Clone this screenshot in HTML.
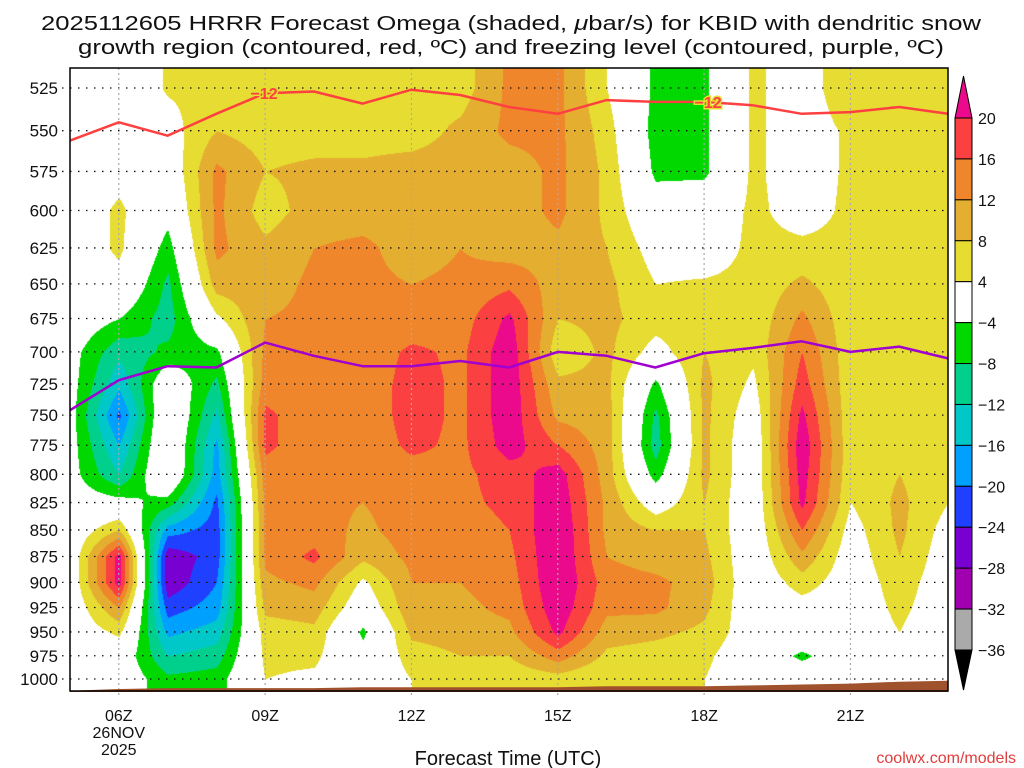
<!DOCTYPE html>
<html><head><meta charset="utf-8"><style>
html,body{margin:0;padding:0;background:#fff;}
#wrap{position:relative;width:1024px;height:768px;overflow:hidden;font-family:"Liberation Sans","DejaVu Sans",sans-serif;}
#cv{position:absolute;left:70px;top:68px;}
#ov{position:absolute;left:0;top:0;}
</style></head><body>
<div id="wrap">
<canvas id="cv" width="878" height="622"></canvas>
<svg id="ov" width="1024" height="768" xmlns="http://www.w3.org/2000/svg">
<g id="grid"></g>
<g id="lines"></g>
<g id="axes"></g>
<g id="cbar"></g>
<text x="511" y="30" text-anchor="middle" font-size="20" textLength="940" lengthAdjust="spacingAndGlyphs" fill="#111">2025112605 HRRR Forecast Omega (shaded, <tspan font-style="italic">μ</tspan>bar/s) for KBID with dendritic snow</text>
<text x="511" y="54" text-anchor="middle" font-size="20" textLength="866" lengthAdjust="spacingAndGlyphs" fill="#111">growth region (contoured, red, ºC) and freezing level (contoured, purple, ºC)</text>
<text x="508" y="765" text-anchor="middle" font-size="20" fill="#111">Forecast Time (UTC)</text>
<text x="1016" y="763" text-anchor="end" font-size="16" fill="#e03c3c">coolwx.com/models</text>
</svg>
</div>
<script>
const levels=[525,550,575,600,625,650,675,700,725,750,775,800,825,850,875,900,925,950,975,1000];
const hours=[5,6,7,8,9,10,11,12,13,14,15,16,17,18,19,20,21,22,23];
// omega columns (one per hour), values top (525) to bottom (1000)
const h05=[0,0,0,0,0,0,0,-2,-2,-2,-2,-2,-1,0,0,0,0,0,0,0];
const h06=[0,0,2,5,5,2,-4,-11,-15,-21,-16,-12,-2,8,22,22,12,5,0,0];
const h07=[4.5,2,0,-2,-6,-9,-10,-7,1,3,3,3,-6,-18,-27,-27,-22,-17,-12,-7];
const h08=[5,8,13,13,13,10,3,-5,-9,-13,-17,-18,-21,-22,-22,-20,-18,-14,-10,-6];
const h09=[5,6,8,6,9,10,12,13,14,17,17,14,13,13,13,11,9,6,5,4];
const h10=[5,6,9,10,12,13,13,13,13,13,13,13,13,14,17,13,10,7,5,3];
const h11=[4,6,9,10,13,13,13,13,13,13,13,13,12,11,9,3,0,-5,-2,0];
const h12=[6,6,10,10,10,12,13,17,18,18,17,14,14,14,13,12,11,9,6,4];
const h13=[6,9,10,11,12,13,14,15,15,15,15,15,15,14,13,12,11,10,8,4];
const h14=[13,13,10,10,10,15,21,23,23,23,22,18,17,16,15,14,13,11,8,5];
const h15=[13,13,13,13,11,10,8,5,9,11,16,22,23,24,24,24,23,21,14,6];
const h16=[4,6,7,7,8,9,9,9,9,10,10,10,11,11,12,14,13,10,7,4];
const h17=[-5,-6,-5,-1,2,4,6,2,-5,-9,-10,-6,1,8,10,13,13,9,6,4];
const h18=[-5,-5,-5,0,1.5,4.5,6,8,9,9,9,9,8,8,9,10,9,7,5,4];
const h19=[5,5,5,5,5,5,5,5,3,1,0,0,0,0,0,0,0,1,0,0];
const h20=[1,1,1,2,5,9,13,16,18,21,23,22,21,16,11,6,2,0,-5,0];
const h21=[8,5,5,5,5,5,5,5,5,5,5,5,4,2,1,1,1,1,0,0];
const h22=[6,5,5,5,5,5,5,5,5,5,5,8,9,9,8,6,5,4,2,1];
const h23=[5,5,5,5,5,5,5,5,5,5,5,5,4,2,1,1,1,0,0,0];
const omega=[h05,h06,h07,h08,h09,h10,h11,h12,h13,h14,h15,h16,h17,h18,h19,h20,h21,h22,h23];
// -12C level (hPa) and freezing level (hPa) per hour
const dendriteP=[556,545,553,540,528,527,534,526,529,536,540,532,533,533,535,540,539,536,540];
const freezeP=[746,722,711,712,693,703,711,711,707,712,700,703,712,701,697,692,700,696,705];
const surfaceP=[1013,1011,1010,1010,1010,1010,1009,1009,1009,1009,1009,1008,1008,1008,1007,1006,1005,1003,1002];
const cbarLabels=["20","16","12","8","4","−4","−8","−12","−16","−20","−24","−28","−32","−36"];
const xTickHours=[6,9,12,15,18,21];
const xTickLabels=["06Z","09Z","12Z","15Z","18Z","21Z"];

const thresholds=[-36,-32,-28,-24,-20,-16,-12,-8,-4,4,8,12,16,20];
const colors=["#000000","#aaaaaa","#a000b0","#7800d0","#2040ff","#00a0ff","#00c8c8","#00d08c","#00d800","#ffffff","#e6dc32","#e4ae30","#f0862c","#fa4040","#ec0a8c"];
function hexRgb(h){return [parseInt(h.substr(1,2),16),parseInt(h.substr(3,2),16),parseInt(h.substr(5,2),16)];}

const X0=70,X1=948,PX=(X1-X0)/18;
function xOf(h){return X0+(h-5)*PX;}
const L0=Math.log(525),L1=Math.log(1000);
function yOf(p){return 88+(Math.log(p)-L0)/(L1-L0)*591;}
const NS="http://www.w3.org/2000/svg";
function mk(tag,attrs,parent){const e=document.createElementNS(NS,tag);for(const k in attrs)e.setAttribute(k,attrs[k]);parent.appendChild(e);return e;}

// shading
const cv=document.getElementById('cv'),ctx=cv.getContext('2d');
const W=cv.width,H=cv.height,img=ctx.createImageData(W,H);
const ly=levels.map(yOf);
const rgbCols=colors.map(hexRgb);
for(let py=0;py<H;py++){
  const Y=68+py;let i=0,f=0;
  if(Y<=ly[0]){i=0;f=0;}else if(Y>=ly[ly.length-1]){i=ly.length-2;f=1;}
  else{while(ly[i+1]<Y)i++;f=(Y-ly[i])/(ly[i+1]-ly[i]);}
  for(let px=0;px<W;px++){
    const t=Math.min(18,Math.max(0,px/PX));let j=Math.min(17,Math.floor(t));const g=t-j;
    const a=omega[j][i]*(1-f)+omega[j][i+1]*f, b=omega[j+1][i]*(1-f)+omega[j+1][i+1]*f;
    const v=a*(1-g)+b*g;
    let k=0;while(k<thresholds.length&&v>=thresholds[k])k++;
    const c=rgbCols[k],o=(py*W+px)*4;img.data[o]=c[0];img.data[o+1]=c[1];img.data[o+2]=c[2];img.data[o+3]=255;
  }
}
ctx.putImageData(img,0,0);

// terrain
const lines=document.getElementById('lines');
let tp="M"+X0+",692 ";hours.forEach((h,i)=>{tp+="L"+xOf(h).toFixed(1)+","+yOf(surfaceP[i]).toFixed(1)+" ";});tp+="L"+X1+",692 Z";
const terr=mk('path',{d:tp,fill:"#a0522d"},lines);



// grid
const grid=document.getElementById('grid');
levels.forEach(p=>{const l=mk('line',{x1:62,x2:X1,y1:yOf(p),y2:yOf(p),stroke:"#111","stroke-width":1.3,"stroke-dasharray":"1.5 6.5"},grid);

});
xTickHours.forEach(h=>{const l=mk('line',{x1:xOf(h),x2:xOf(h),y1:68,y2:698,stroke:"#aaa","stroke-width":1.2,"stroke-dasharray":"2 3"},grid);

});

// contour lines
function poly(arr){return hours.map((h,i)=>xOf(h).toFixed(1)+","+yOf(arr[i]).toFixed(1)).join(" ");}
const red=mk('polyline',{points:poly(dendriteP),fill:"none",stroke:"#ff4040","stroke-width":2.5,"stroke-linejoin":"round"},lines);


const pur=mk('polyline',{points:poly(freezeP),fill:"none",stroke:"#a000d0","stroke-width":2.5,"stroke-linejoin":"round"},lines);


[[9,"−12",-1],[18,"−12",4]].forEach(([h,s,dx])=>{const i=hours.indexOf(h);const t=mk('text',{x:xOf(h)+dx,y:yOf(dendriteP[i])+6,"text-anchor":"middle","font-size":16,"font-weight":"bold",fill:"#ff4040",stroke:"#e6dc32","stroke-width":3,"paint-order":"stroke"},lines);t.textContent=s;

});

// axes
const axes=document.getElementById('axes');
const fr=mk('rect',{x:X0,y:68,width:X1-X0,height:623,fill:"none",stroke:"#000","stroke-width":1.5},axes);


levels.forEach(p=>{const t=mk('text',{x:58,y:yOf(p)+6,"text-anchor":"end","font-size":17,fill:"#111"},axes);t.textContent=String(p);

});
xTickHours.forEach((h,i)=>{const t=mk('text',{x:xOf(h),y:721,"text-anchor":"middle","font-size":16,fill:"#111"},axes);t.textContent=xTickLabels[i];

});
[["26NOV",738],["2025",755]].forEach(([s,y])=>{const t=mk('text',{x:xOf(6),y:y,"text-anchor":"middle","font-size":16,fill:"#111"},axes);t.textContent=s;

});

// colorbar
const cb=document.getElementById('cbar');
const cbTop=118,cbBot=650,bh=(cbBot-cbTop)/13,cx0=955,cx1=972;
const tri1=mk('polygon',{points:`${cx0},${cbTop} ${cx1},${cbTop} ${(cx0+cx1)/2},76`,fill:colors[14],stroke:"#000","stroke-width":1},cb);


for(let k=0;k<13;k++){const r=mk('rect',{x:cx0,y:cbTop+k*bh,width:cx1-cx0,height:bh,fill:colors[13-k],stroke:"#000","stroke-width":1},cb);

}
const tri2=mk('polygon',{points:`${cx0},${cbBot} ${cx1},${cbBot} ${(cx0+cx1)/2},690`,fill:colors[0],stroke:"#000","stroke-width":1},cb);


cbarLabels.forEach((s,k)=>{const t=mk('text',{x:978,y:cbTop+k*bh+6,"font-size":16,fill:"#111"},cb);t.textContent=s;

});
</script>
</body></html>
